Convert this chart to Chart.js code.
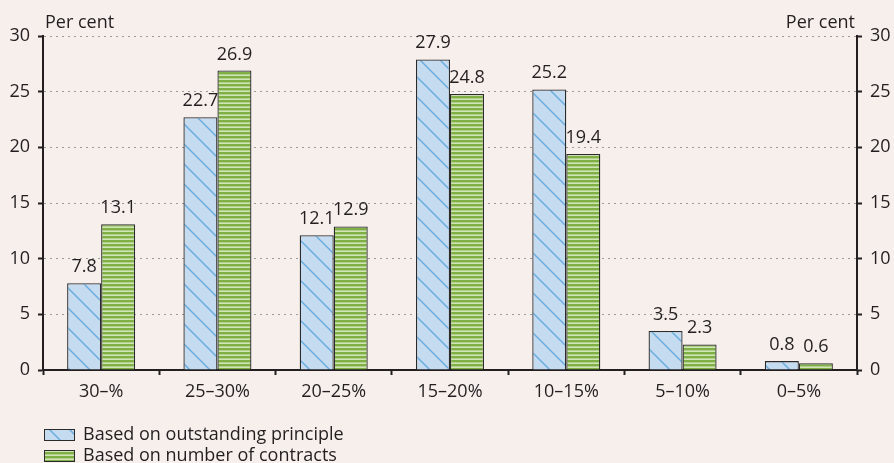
<!DOCTYPE html>
<html>
<head>
<meta charset="utf-8">
<script src="https://cdn.jsdelivr.net/npm/chart.js@4/dist/chart.umd.min.js"></script>
<style>
html,body{margin:0;padding:0;background:#f6efec;}
#wrap{position:relative;width:894px;height:463px;}
</style>
</head>
<body>
<div id="wrap"><canvas id="c" width="894" height="463"></canvas></div>
<script>
const categories = ['30–%', '25–30%', '20–25%', '15–20%', '10–15%', '5–10%', '0–5%'];
const principleValues = [7.8, 22.7, 12.1, 27.9, 25.2, 3.5, 0.8];
const contractValues = [13.1, 26.9, 12.9, 24.8, 19.4, 2.3, 0.6];
const seriesNames = ['Based on outstanding principle', 'Based on number of contracts'];
const yTicks = [0, 5, 10, 15, 20, 25, 30];
const axisTitle = 'Per cent';

const FONT = '"Open Sans", sans-serif';
const FS = 18;

function diagPattern() {
  const s = 20;
  const cv = document.createElement('canvas');
  cv.width = s; cv.height = s;
  const g = cv.getContext('2d');
  g.fillStyle = '#c5dbf0';
  g.fillRect(0, 0, s, s);
  g.strokeStyle = '#6aaee0';
  g.lineWidth = 1.5;
  g.beginPath();
  g.moveTo(-2, -2); g.lineTo(s + 2, s + 2);
  g.moveTo(-2 - s, -2); g.lineTo(2, s + 2);
  g.moveTo(s - 2, -2); g.lineTo(2 * s + 2, s + 2);
  g.stroke();
  return g.createPattern(cv, 'repeat');
}
function stripePattern() {
  const cv = document.createElement('canvas');
  cv.width = 4; cv.height = 4;
  const g = cv.getContext('2d');
  g.fillStyle = '#d2e5b6';
  g.fillRect(0, 0, 4, 4);
  g.fillStyle = '#7eb046';
  g.fillRect(0, 0, 4, 2.4);
  return g.createPattern(cv, 'repeat');
}
const pBlue = diagPattern();
const pGreen = stripePattern();

const valueLabels = {
  id: 'valueLabels',
  afterDatasetsDraw(chart) {
    const ctx = chart.ctx;
    ctx.save();
    ctx.font = FS + 'px ' + FONT;
    ctx.fillStyle = '#231f20';
    ctx.textAlign = 'center';
    ctx.textBaseline = 'alphabetic';
    chart.data.datasets.forEach((ds, i) => {
      chart.getDatasetMeta(i).data.forEach((bar, j) => {
        ctx.fillText(ds.data[j].toFixed(1), bar.x, bar.y - 11);
      });
    });
    ctx.restore();
  }
};

const extras = {
  id: 'extras',
  afterDraw(chart) {
    const ctx = chart.ctx;
    const a = chart.chartArea;
    ctx.save();
    ctx.font = FS + 'px ' + FONT;
    ctx.fillStyle = '#231f20';
    ctx.textBaseline = 'alphabetic';
    ctx.textAlign = 'left';
    ctx.fillText(axisTitle, a.left + 2, 28);
    ctx.textAlign = 'right';
    ctx.fillText(axisTitle, a.right - 2, 28);
    // legend
    const pats = [pBlue, pGreen];
    ctx.textAlign = 'left';
    seriesNames.forEach((n, i) => {
      const y = 429 + i * 21;
      ctx.fillStyle = pats[i];
      ctx.fillRect(44, y, 30, 11);
      ctx.strokeStyle = '#2b2b2b';
      ctx.lineWidth = 1;
      ctx.strokeRect(44.5, y + 0.5, 30, 11);
      ctx.fillStyle = '#231f20';
      ctx.fillText(n, 83, y + 11);
    });
    ctx.restore();
  }
};

const tickFont = { family: FONT, size: FS };

new Chart(document.getElementById('c'), {
  type: 'bar',
  data: {
    labels: categories,
    datasets: [
      { label: seriesNames[0], data: principleValues, backgroundColor: pBlue, borderColor: '#2b2b2b', borderWidth: 1.3, yAxisID: 'y' },
      { label: seriesNames[1], data: contractValues, backgroundColor: pGreen, borderColor: '#2b2b2b', borderWidth: 1.3, yAxisID: 'y' }
    ]
  },
  options: {
    responsive: false,
    animation: false,
    events: [],
    layout: { padding: { left: 0, right: 0, top: 36, bottom: 58 } },
    datasets: { bar: { barPercentage: 1, categoryPercentage: 0.585 } },
    plugins: { legend: { display: false }, tooltip: { enabled: false } },
    scales: {
      x: {
        offset: true,
        afterFit(s) { s.height = 35; },
        grid: { offset: true, drawOnChartArea: false, drawTicks: true, tickLength: 5, tickColor: '#231f20', tickWidth: 2 },
        border: { display: true, color: '#231f20', width: 2 },
        ticks: { font: tickFont, color: '#231f20', padding: 6, maxRotation: 0 }
      },
      y: {
        position: 'left',
        min: 0, max: 30,
        afterFit(s) { s.width = 43; },
        afterBuildTicks(s) { s.ticks = yTicks.map(v => ({ value: v })); },
        grid: {
          color: (c) => c.tick && c.tick.value === 0 ? 'rgba(0,0,0,0)' : '#9a9a9a',
          lineWidth: 1, drawTicks: true, tickLength: 5, tickColor: '#231f20', tickWidth: 2,
          tickBorderDash: []
        },
        border: { display: true, color: '#231f20', width: 2, dash: [2, 4] },
        ticks: { font: tickFont, color: '#231f20', padding: 8 }
      },
      y2: {
        position: 'right',
        min: 0, max: 30,
        afterFit(s) { s.width = 37; },
        afterBuildTicks(s) { s.ticks = yTicks.map(v => ({ value: v })); },
        grid: { drawOnChartArea: false, drawTicks: true, tickLength: 5, tickColor: '#231f20', tickWidth: 2 },
        border: { display: true, color: '#231f20', width: 2 },
        ticks: { font: tickFont, color: '#231f20', padding: 8 }
      }
    }
  },
  plugins: [valueLabels, extras]
});
</script>
</body>
</html>
